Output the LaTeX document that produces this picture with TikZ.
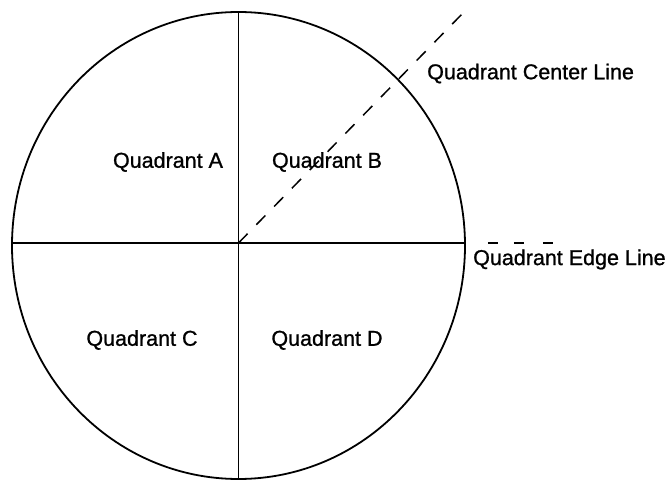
\documentclass[tikz,border=0pt]{standalone}
\usepackage{fontspec}
\setmainfont{Liberation Sans}[FakeBold=1]
\usetikzlibrary{shapes.geometric}
\begin{document}
\begin{tikzpicture}[x=1pt,y=1pt,
  lbl/.style={font=\fontsize{21.5}{24}\selectfont, inner sep=0pt},
  solidline/.style={line width=1.5pt},
  dashline/.style={line width=1.5pt, dash pattern=on 13pt off 12.5pt},
  edgedash/.style={line width=1.5pt, dash pattern=on 0pt off 22pt on 10pt off 16pt on 10pt off 19pt on 11pt off 40pt}]
\useasboundingbox (0,0) rectangle (669,485);
\node[ellipse, draw, line width=1.8pt, minimum width=453pt, minimum height=467pt, inner sep=0pt] (disc) at (238.5,239.5) {};
\coordinate (ctr) at (238.5,242);
\coordinate (cl) at (464,473);
\coordinate (el) at (553,242);
\draw[solidline] (disc.north) -- (disc.south);
\draw[solidline] (disc.west |- ctr) -- (disc.east |- ctr);
\draw[dashline] (ctr) -- (cl);
\draw[edgedash] (disc.east |- ctr) -- (el);
\node[lbl] (qa) at (168,323) {Quadrant A};
\node[lbl] (qb) at (327,323) {Quadrant B};
\node[lbl] (qc) at (142,145) {Quadrant C};
\node[lbl] (qd) at (327,145) {Quadrant D};
\node[lbl, anchor=west] (qcl) at (427,411.5) {Quadrant Center Line};
\node[lbl, anchor=west] (qel) at (473,225.5) {Quadrant Edge Line};
\end{tikzpicture}
\end{document}
